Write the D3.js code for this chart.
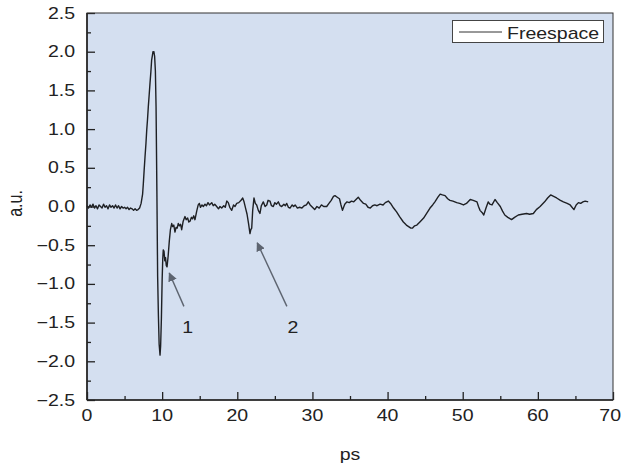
<!DOCTYPE html>
<html><head><meta charset="utf-8">
<script src="https://cdn.jsdelivr.net/npm/d3@7"></script>
<style>
body{margin:0;background:#fff;}
svg{display:block;font-family:"Liberation Sans",Arial,Helvetica,sans-serif;}
</style></head>
<body><svg id="chart" width="622" height="473"></svg>
<script>
// ---- data ----
const timePs = [0.0,0.2,0.4,0.6,0.8,1.0,1.2,1.4,1.6,1.8,2.0,2.2,2.4,2.6,2.8,3.0,3.2,3.4,3.6,3.8,4.0,4.2,4.4,4.6,4.8,5.0,5.2,5.4,5.6,5.8,6.0,6.2,6.4,6.6,6.8,7.0,
7.2,7.4,7.5,7.6,7.72,7.85,7.95,8.05,8.16,8.28,8.39,8.5,8.6,8.7,8.78,8.83,8.9,9.0,9.1,9.19,9.3,9.4,9.5,9.6,9.72,9.8,9.9,10.0,10.08,10.15,10.25,10.35,10.45,10.55,10.65,10.8,10.95,11.1,11.27,11.4,11.55,11.71,11.85,12.0,12.15,12.3,12.45,12.6,12.8,13.04,13.2,13.4,13.55,13.71,13.9,14.05,14.2,14.37,14.6,14.8,14.95,
15.1,15.3,15.48,15.7,15.9,16.1,16.3,16.6,16.8,17.0,17.26,17.5,17.7,17.93,18.2,18.4,18.6,18.8,19.0,19.26,19.5,19.7,19.92,20.2,20.5,20.72,20.9,21.1,21.3,21.5,21.69,21.8,21.92,22.05,22.22,22.4,22.58,22.8,23.02,23.2,23.46,23.7,23.92,24.1,24.35,24.55,24.79,25.0,25.2,25.46,25.7,25.91,26.2,26.4,26.58,26.8,27.02,27.3,27.5,27.7,28.0,28.3,28.6,28.9,29.2,29.45,29.7,30.0,30.3,30.6,30.9,31.2,31.5,31.9,32.2,32.5,32.8,33.0,33.3,33.6,33.8,34.0,34.3,34.6,34.9,35.2,35.5,35.8,36.1,36.4,36.8,37.1,37.4,37.7,38.0,38.3,38.6,39.0,39.4,39.7,40.1,40.4,40.8,41.2,41.6,42.1,42.5,42.8,43.1,43.3,43.6,43.9,44.3,44.8,45.2,45.65,46.0,46.3,46.7,47.0,47.3,47.65,48.0,48.3,48.7,49.2,49.6,50.1,50.5,51.0,51.4,51.9,52.1,52.3,52.6,52.8,53.1,53.4,53.6,53.9,54.3,54.6,55.0,55.3,55.6,56.0,56.5,56.9,57.4,57.9,58.5,58.9,59.4,59.8,60.3,60.9,61.3,61.7,62.1,62.5,63.0,63.4,63.9,64.3,64.8,65.1,65.4,65.7,66.0,66.3,66.7];
const amplitude = [0.01,-0.02,0.02,-0.01,0.03,-0.02,0.01,-0.03,0.02,0.00,-0.02,0.03,-0.01,0.01,-0.03,0.02,-0.01,0.01,-0.02,0.02,-0.02,0.01,-0.03,0.00,-0.02,-0.01,-0.03,-0.01,-0.04,-0.02,-0.03,-0.05,-0.03,-0.05,-0.04,-0.02,
0.04,0.16,0.30,0.46,0.64,0.82,0.99,1.12,1.29,1.45,1.60,1.74,1.89,1.95,2.00,1.98,2.00,1.94,1.75,1.29,0.20,-0.90,-1.40,-1.78,-1.92,-1.80,-1.45,-0.95,-0.68,-0.56,-0.58,-0.70,-0.66,-0.76,-0.78,-0.64,-0.45,-0.30,-0.22,-0.26,-0.24,-0.33,-0.27,-0.28,-0.22,-0.25,-0.23,-0.30,-0.19,-0.13,-0.17,-0.15,-0.20,-0.19,-0.14,-0.16,-0.12,-0.17,-0.06,0.02,0.04,
-0.01,0.02,0.00,0.03,0.01,0.05,0.02,0.05,0.01,0.03,0.00,-0.03,0.00,-0.02,0.01,-0.01,0.07,0.05,-0.01,-0.05,0.02,0.00,0.04,0.05,0.08,0.11,0.06,-0.02,-0.10,-0.22,-0.35,-0.30,-0.28,-0.05,0.11,0.04,0.02,-0.05,-0.09,0.01,0.06,0.00,0.02,0.08,0.07,0.01,0.00,0.05,0.03,0.06,0.01,0.00,0.03,0.01,0.04,-0.01,-0.02,0.02,0.00,0.02,-0.02,-0.01,-0.02,0.01,0.02,0.06,0.02,-0.01,-0.04,0.00,-0.02,0.02,0.00,0.00,0.04,0.08,0.13,0.14,0.12,0.10,0.02,-0.05,0.03,0.06,0.05,0.07,0.06,0.09,0.12,0.08,0.04,0.03,-0.01,-0.02,0.01,0.02,0.01,0.03,0.02,0.05,0.07,0.04,-0.02,-0.07,-0.13,-0.20,-0.24,-0.26,-0.28,-0.28,-0.25,-0.24,-0.20,-0.15,-0.09,-0.02,0.02,0.06,0.12,0.16,0.15,0.14,0.10,0.08,0.07,0.05,0.04,0.02,0.04,0.09,0.08,0.06,0.00,-0.05,-0.08,-0.11,-0.02,0.06,0.03,0.02,0.09,0.05,0.00,-0.06,-0.11,-0.14,-0.17,-0.14,-0.11,-0.10,-0.09,-0.10,-0.09,-0.04,0.00,0.06,0.11,0.15,0.13,0.11,0.08,0.06,0.04,0.02,-0.04,0.02,0.05,0.04,0.06,0.07,0.06];
const seriesName = "Freespace";
const xTicks = [0,10,20,30,40,50,60,70];
const yTicks = [-2.5,-2.0,-1.5,-1.0,-0.5,0.0,0.5,1.0,1.5,2.0,2.5];
const xLabel = "ps";
const yLabel = "a.u.";
// annotation arrows
const arrowLabels = ["1","2"];
const arrowTail = [[12.9,-1.29],[26.6,-1.29]];
const arrowTip  = [[10.95,-0.86],[22.66,-0.47]];
const labelPos  = [[13.4,-1.63],[27.4,-1.63]];

// ---- layout ----
const W=622,H=473, m={left:87,top:13,right:9,bottom:73};
const SX=1.22; // horizontal stretch of the original text
const svg=d3.select("#chart");
const x=d3.scaleLinear().domain([0,70]).range([m.left,W-m.right]);
const y=d3.scaleLinear().domain([-2.5,2.5]).range([H-m.bottom,m.top]);

svg.append("rect").attr("x",x(0)).attr("y",y(2.5)).attr("width",x(70)-x(0)).attr("height",y(-2.5)-y(2.5)).attr("fill","#d4dff0");

svg.append("defs").append("marker").attr("id","ah").attr("viewBox","0 0 10 10").attr("refX",9).attr("refY",5)
  .attr("markerWidth",9).attr("markerHeight",9).attr("markerUnits","userSpaceOnUse").attr("orient","auto")
  .append("path").attr("d","M0,0 L10,5 L0,10 z").attr("fill","#5d6470");

// line
const pts=timePs.map((t,i)=>[t,amplitude[i]]);
svg.append("path").datum(pts).attr("fill","none").attr("stroke","#1e2024").attr("stroke-width",1.4).attr("stroke-linejoin","round")
  .attr("d",d3.line().x(d=>x(d[0])).y(d=>y(d[1])));

// arrows
arrowLabels.forEach((lab,i)=>{
  svg.append("line").attr("x1",x(arrowTail[i][0])).attr("y1",y(arrowTail[i][1]))
    .attr("x2",x(arrowTip[i][0])).attr("y2",y(arrowTip[i][1]))
    .attr("stroke","#5d6470").attr("stroke-width",1.4).attr("marker-end","url(#ah)");
  svg.append("text").attr("transform",`translate(${x(labelPos[i][0])},${y(labelPos[i][1])}) scale(${SX},1)`)
    .attr("text-anchor","middle").attr("font-size",16).attr("fill","#222").text(lab);
});

// axes ticks (inward)
const fmt=d3.format(".1f");
const gy=svg.append("g").attr("transform",`translate(${m.left},0)`)
  .call(d3.axisLeft(y).tickValues(d3.range(-2.5,2.51,0.25)).tickSize(0).tickFormat(""));
gy.select(".domain").remove();
gy.selectAll(".tick line").attr("x2",(d)=>Math.abs(Math.round(d*2)-d*2)<1e-6?8:4).attr("stroke","#222").attr("stroke-width",1.3);
const gx=svg.append("g").attr("transform",`translate(0,${H-m.bottom})`)
  .call(d3.axisBottom(x).tickValues(d3.range(0,70.1,5)).tickSize(0).tickFormat(""));
gx.select(".domain").remove();
gx.selectAll(".tick line").attr("y2",(d)=>d%10===0?-8:-4).attr("stroke","#222").attr("stroke-width",1.3);

// tick labels
svg.append("g").selectAll("text").data(yTicks).join("text")
  .attr("transform",d=>`translate(${m.left-12},${y(d)+5.5}) scale(${SX},1)`)
  .attr("text-anchor","end").attr("font-size",16).attr("fill","#222").text(d=>fmt(d));
svg.append("g").selectAll("text").data(xTicks).join("text")
  .attr("font-size",16).attr("fill","#222").attr("text-anchor","middle").text(d=>d)
  .each(function(d){
    const half=this.getComputedTextLength()*SX/2;
    const cx=Math.min(x(d), W-1-half);
    d3.select(this).attr("transform",`translate(${cx},${H-m.bottom+21}) scale(${SX},1)`);
  });

// frame
svg.append("rect").attr("x",x(0)).attr("y",y(2.5)).attr("width",x(70)-x(0)).attr("height",y(-2.5)-y(2.5))
  .attr("fill","none").attr("stroke","#333").attr("stroke-width",1);
svg.append("line").attr("x1",x(0)).attr("x2",x(0)).attr("y1",y(2.5)).attr("y2",y(-2.5)).attr("stroke","#222").attr("stroke-width",1.6);
svg.append("line").attr("x1",x(0)).attr("x2",x(70)).attr("y1",y(-2.5)).attr("y2",y(-2.5)).attr("stroke","#222").attr("stroke-width",1.6);

// axis titles
svg.append("text").attr("transform",`translate(${(x(0)+x(70))/2},460) scale(${SX},1)`).attr("text-anchor","middle")
  .attr("font-size",16).attr("fill","#222").text(xLabel);
svg.append("text").attr("transform",`translate(22,${y(0)-3}) rotate(-90) scale(1,${SX})`).attr("text-anchor","middle")
  .attr("font-size",16).attr("fill","#222").text(yLabel);

// legend
const lg=svg.append("g");
lg.append("rect").attr("x",452.5).attr("y",20.5).attr("width",151).attr("height",22).attr("fill","#fff").attr("stroke","#444").attr("stroke-width",1);
lg.append("line").attr("x1",459).attr("x2",502).attr("y1",32).attr("y2",32).attr("stroke","#333").attr("stroke-width",1);
lg.append("text").attr("transform",`translate(507,38.5) scale(${SX},1)`).attr("font-size",16).attr("fill","#222").text(seriesName);
</script></body></html>
